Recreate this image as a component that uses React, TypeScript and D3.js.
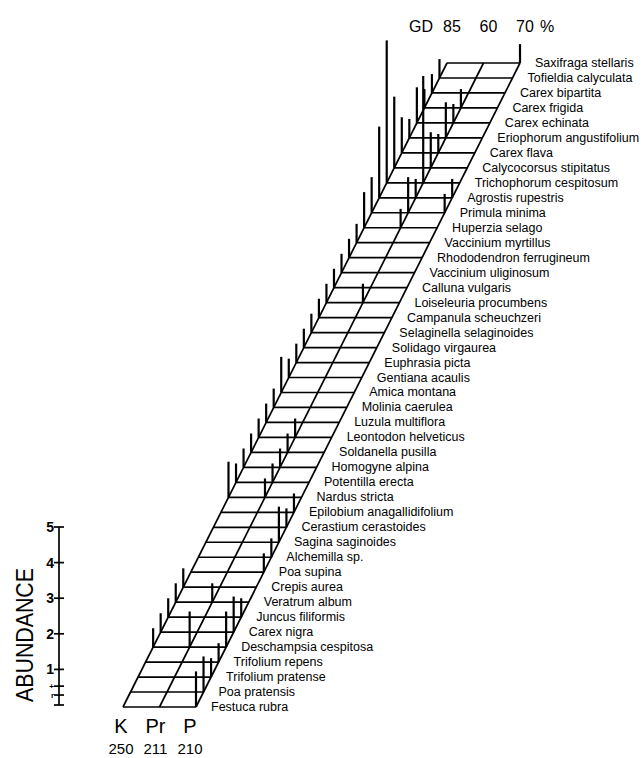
import React from "react";
import * as d3 from "d3";

// species, top row to bottom row
const species = [
  "Saxifraga stellaris",
  "Tofieldia calyculata",
  "Carex bipartita",
  "Carex frigida",
  "Carex echinata",
  "Eriophorum angustifolium",
  "Carex flava",
  "Calycocorsus stipitatus",
  "Trichophorum cespitosum",
  "Agrostis rupestris",
  "Primula minima",
  "Huperzia selago",
  "Vaccinium myrtillus",
  "Rhododendron ferrugineum",
  "Vaccinium uliginosum",
  "Calluna vulgaris",
  "Loiseleuria procumbens",
  "Campanula scheuchzeri",
  "Selaginella selaginoides",
  "Solidago virgaurea",
  "Euphrasia picta",
  "Gentiana acaulis",
  "Amica montana",
  "Molinia caerulea",
  "Luzula multiflora",
  "Leontodon helveticus",
  "Soldanella pusilla",
  "Homogyne alpina",
  "Potentilla erecta",
  "Nardus stricta",
  "Epilobium anagallidifolium",
  "Cerastium cerastoides",
  "Sagina saginoides",
  "Alchemilla sp.",
  "Poa supina",
  "Crepis aurea",
  "Veratrum album",
  "Juncus filiformis",
  "Carex nigra",
  "Deschampsia cespitosa",
  "Trifolium repens",
  "Trifolium pratense",
  "Poa pratensis",
  "Festuca rubra",
];

const sites = ["K", "Pr", "P"];
const siteNumbers = ["250", "211", "210"];
const coverValues = ["85", "60", "70"];

// abundance class per species (same order as species), "" = absent
const abundK = [
  "", "+", "+", "+", "1", "+", "1", "2", "4", "2", "1", "1", "+", "+", "+",
  "+", "+", "+", "+", "+", "+", "+", "1", "+", "+", "+", "+", "+", "+", "1",
  "", "", "", "", "", "+", "+", "+", "+", "+", "", "", "", "",
];
const abundPr = [
  "", "", "", "+", "+", "1", "+", "1", "3", "+", "1", "+", "", "", "",
  "", "+", "", "", "", "", "", "", "", "", "+", "+", "+", "+", "+",
  "", "", "", "", "", "", "+", "", "", "1", "", "", "", "",
];
const abundP = [
  "+", "", "", "", "", "", "", "", "", "+", "+", "", "", "", "",
  "", "", "", "", "", "", "", "", "", "", "", "", "", "", "",
  "+", "+", "1", "+", "+", "", "", "+", "1", "1", "+", "+", "1", "1",
];

const abundanceTicks = ["r", "+", "1", "2", "3", "4", "5"];
const classValue: Record<string, number> = {
  r: 0.28, "+": 0.53, "1": 1, "2": 2, "3": 3, "4": 4, "5": 5,
};

const font = "'Liberation Sans', Arial, sans-serif";

export default function App() {
  const width = 642;
  const height = 758;

  const yRow = d3.scalePoint<string>().domain(species).range([63, 707]);
  const xSite = d3.scalePoint<string>().domain(sites).range([447, 520]);
  // horizontal shift of the ribbon as it goes down
  const slant = d3.scaleLinear().domain([63, 707]).range([0, -324]);
  const abund = d3.scaleLinear().domain([0, 5]).range([705, 527]);
  const barH = (v: number) => abund(0) - abund(v);

  const nodeX = (site: string, sp: string) => xSite(site)! + slant(yRow(sp)!);

  const first = species[0];
  const last = species[species.length - 1];
  const columns = [abundK, abundPr, abundP];
  const axisX = 59;

  return (
    <svg
      width={width}
      height={height}
      style={{ position: "absolute", left: 0, top: 0, background: "#fff" }}
      fontFamily={font}
    >
      {/* ribbon grid */}
      <g stroke="#000" strokeWidth={1.7} fill="none">
        {species.map((sp) => (
          <line
            key={sp}
            x1={nodeX("K", sp)}
            x2={nodeX("P", sp)}
            y1={yRow(sp)}
            y2={yRow(sp)}
          />
        ))}
        {sites.map((s) => (
          <line
            key={s}
            x1={nodeX(s, first)}
            y1={yRow(first)}
            x2={nodeX(s, last)}
            y2={yRow(last)}
          />
        ))}
      </g>

      {/* abundance bars */}
      <g stroke="#000" strokeWidth={2.2}>
        {sites.map((s, si) =>
          species.map((sp, i) => {
            const c = columns[si][i];
            if (!c) return null;
            const x = nodeX(s, sp);
            const y = yRow(sp)!;
            return (
              <line key={s + sp} x1={x} x2={x} y1={y} y2={y - barH(classValue[c])} />
            );
          })
        )}
      </g>

      {/* species labels */}
      <g fontSize={12.5} fill="#000">
        {species.map((sp) => (
          <text
            key={sp}
            x={nodeX("P", sp) + 15}
            y={yRow(sp)}
            dominantBaseline="central"
          >
            {sp}
          </text>
        ))}
      </g>

      {/* top header */}
      <g fontSize={16} fill="#000" textAnchor="middle">
        <text x={421} y={32}>GD</text>
        {sites.map((s, i) => (
          <text key={s} x={xSite(s)! + 5} y={32}>
            {coverValues[i]}
          </text>
        ))}
        <text x={547} y={32}>%</text>
      </g>

      {/* bottom site labels */}
      <g fill="#000" textAnchor="middle">
        {sites.map((s, i) => {
          const x = nodeX(s, last) - 2 - i * 2;
          return (
            <g key={s}>
              <text x={x} y={733} fontSize={20}>{s}</text>
              <text x={x} y={754} fontSize={15}>{siteNumbers[i]}</text>
            </g>
          );
        })}
      </g>

      {/* abundance axis */}
      <g stroke="#000" strokeWidth={1.7}>
        <line x1={axisX} x2={axisX} y1={abund(5)} y2={abund(0)} />
        <line x1={axisX - 5} x2={axisX + 5} y1={abund(0)} y2={abund(0)} />
        {abundanceTicks.map((t) => (
          <line
            key={t}
            x1={axisX - 5}
            x2={axisX + 5}
            y1={abund(classValue[t])}
            y2={abund(classValue[t])}
          />
        ))}
      </g>
      <g fontWeight="bold" textAnchor="end" fill="#000">
        {abundanceTicks.map((t) => (
          <text
            key={t}
            x={axisX - 5}
            y={abund(classValue[t])}
            dominantBaseline="central"
            fontSize={t === "r" || t === "+" ? 8 : 14}
          >
            {t}
          </text>
        ))}
      </g>
      <text
        transform="translate(33,635) rotate(-90)"
        textAnchor="middle"
        fontSize={24}
        textLength={134}
        lengthAdjust="spacingAndGlyphs"
        fill="#000"
      >
        ABUNDANCE
      </text>
    </svg>
  );
}
